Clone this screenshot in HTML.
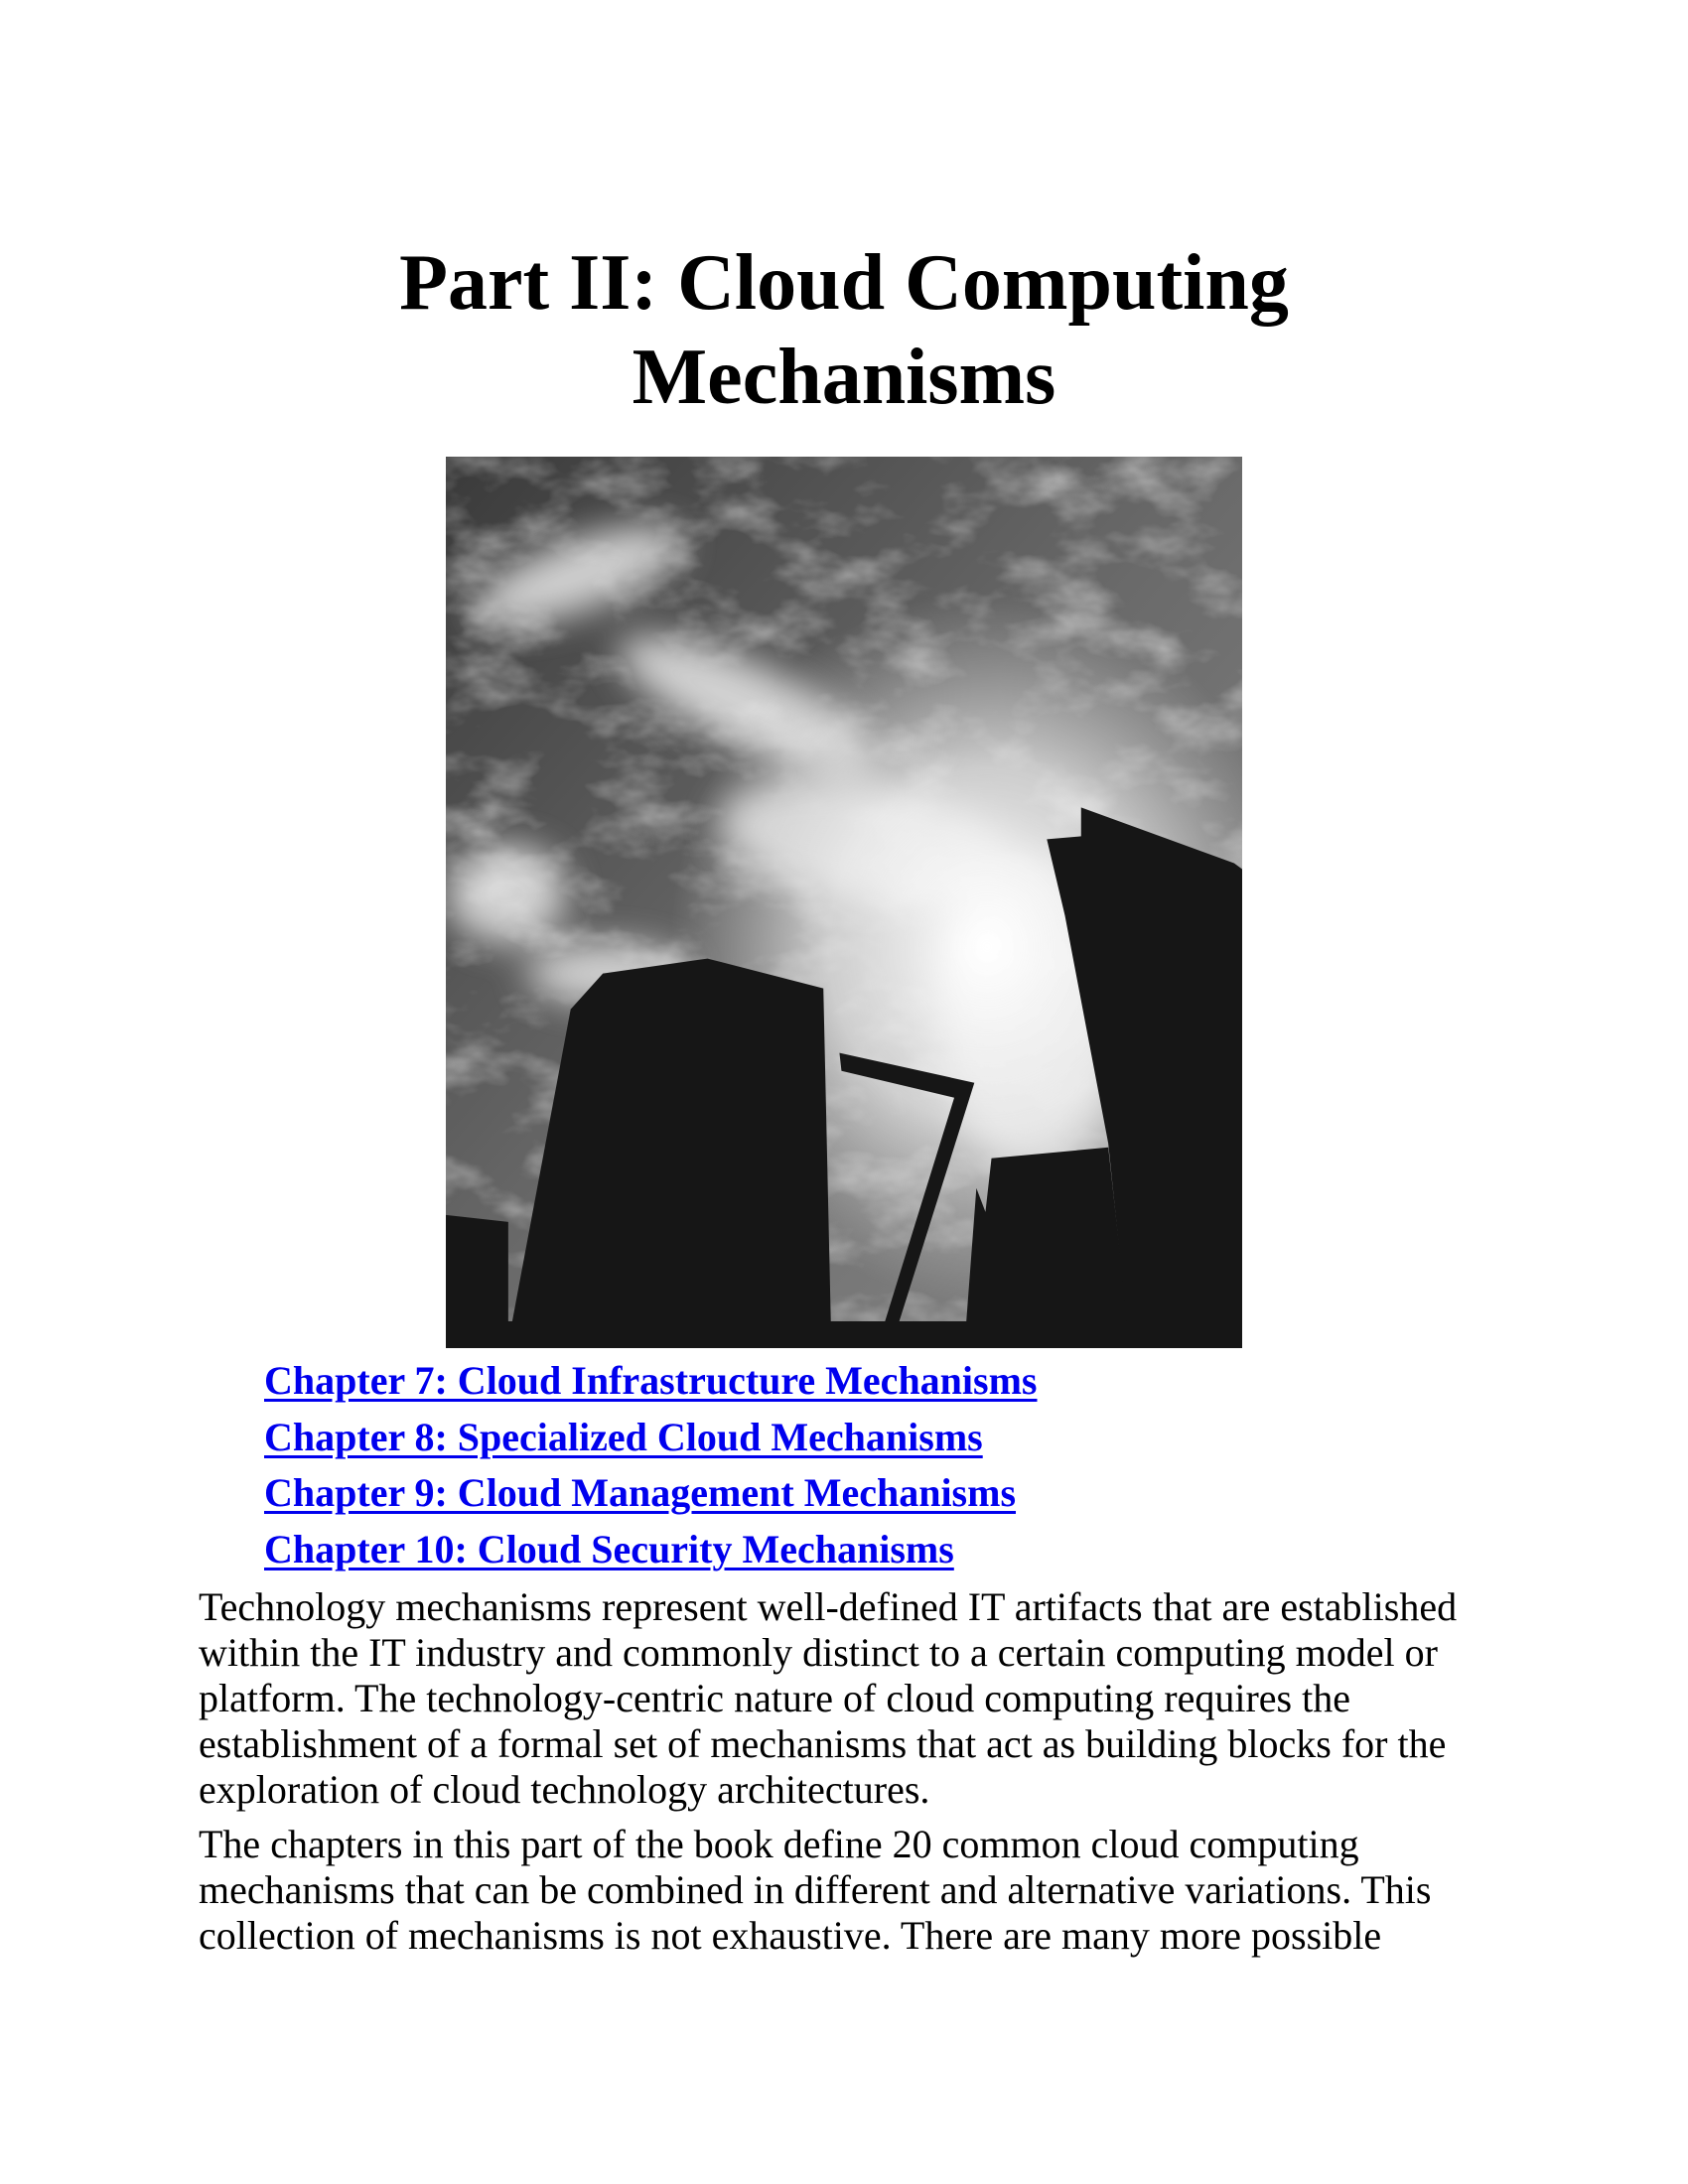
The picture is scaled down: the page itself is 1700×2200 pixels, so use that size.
<!DOCTYPE html>
<html><head><meta charset="utf-8"><style>
html,body{margin:0;padding:0;background:#fff;}
body{width:1700px;height:2200px;position:relative;overflow:hidden;font-family:"Liberation Serif",serif;color:#000;}
.title{position:absolute;left:0;width:1700px;top:238px;text-align:center;font-weight:bold;font-size:80px;line-height:95px;}
.links{position:absolute;left:266px;top:1363px;font-size:40px;line-height:56.6px;font-weight:bold;}
.links a{color:#0000ee;text-decoration:underline;text-decoration-thickness:3px;text-underline-offset:5px;display:block;white-space:nowrap;}
.body{position:absolute;left:200px;top:1596px;font-size:40px;line-height:46px;white-space:nowrap;}
.body p{margin:0 0 9px 0;}
svg.photo{position:absolute;left:449px;top:460px;}
</style></head><body>
<div class="title">Part II: Cloud Computing<br>Mechanisms</div>
<svg class="photo" width="802" height="898" viewBox="0 0 791 897" preserveAspectRatio="none">
<defs>
<linearGradient id="sky" x1="0" y1="0" x2="1" y2="1">
<stop offset="0" stop-color="#3a3a3a"/><stop offset="0.5" stop-color="#6a6a6a"/><stop offset="1" stop-color="#8a8a8a"/>
</linearGradient>
<radialGradient id="glow" cx="0.68" cy="0.55" r="0.4">
<stop offset="0" stop-color="#fff" stop-opacity="1"/><stop offset="0.5" stop-color="#eee" stop-opacity="0.75"/><stop offset="1" stop-color="#ccc" stop-opacity="0"/>
</radialGradient>
<filter id="cl" x="0" y="0" width="100%" height="100%">
<feTurbulence type="fractalNoise" baseFrequency="0.012 0.02" numOctaves="4" seed="7"/>
<feColorMatrix type="matrix" values="0 0 0 0 1  0 0 0 0 1  0 0 0 0 1  1.6 0 0 0 -0.75"/>
</filter>
<filter id="bl"><feGaussianBlur stdDeviation="18"/></filter>
</defs>
<rect width="791" height="897" fill="url(#sky)"/>
<rect width="791" height="897" filter="url(#cl)" opacity="0.7"/>
<g filter="url(#bl)" fill="#e8e8e8" opacity="0.85">
<ellipse cx="130" cy="120" rx="110" ry="35" transform="rotate(-20 130 120)"/>
<ellipse cx="300" cy="250" rx="140" ry="40" transform="rotate(25 300 250)"/>
<ellipse cx="420" cy="390" rx="150" ry="60" transform="rotate(10 420 390)"/>
<ellipse cx="60" cy="440" rx="60" ry="50"/>
<ellipse cx="160" cy="520" rx="80" ry="30"/>
<ellipse cx="580" cy="560" rx="90" ry="160"/>
</g>
<rect width="791" height="897" fill="url(#glow)"/>
<g fill="#161616">
<polygon points="124,556 156,520 260,505 375,535 383,897 61,897"/>
<polygon points="0,763 62,770 62,897 0,897"/>
<polygon points="391,600 525,630 442,897 428,897 505,645 393,618"/>
<polygon points="542,706 658,695 680,897 515,897 527,736 536,760"/>
<polygon points="597,385 631,382 631,353 783,409 791,415 791,897 679,897 658,691 615,462"/>
<rect x="0" y="870" width="791" height="27"/>
</g>
</svg>
<div class="links">
<a>Chapter 7: Cloud Infrastructure Mechanisms</a>
<a>Chapter 8: Specialized Cloud Mechanisms</a>
<a>Chapter 9: Cloud Management Mechanisms</a>
<a>Chapter 10: Cloud Security Mechanisms</a>
</div>
<div class="body">
<p>Technology mechanisms represent well-defined IT artifacts that are established<br>within the IT industry and commonly distinct to a certain computing model or<br>platform. The technology-centric nature of cloud computing requires the<br>establishment of a formal set of mechanisms that act as building blocks for the<br>exploration of cloud technology architectures.</p>
<p>The chapters in this part of the book define 20 common cloud computing<br>mechanisms that can be combined in different and alternative variations. This<br>collection of mechanisms is not exhaustive. There are many more possible</p>
</div>
</body></html>
